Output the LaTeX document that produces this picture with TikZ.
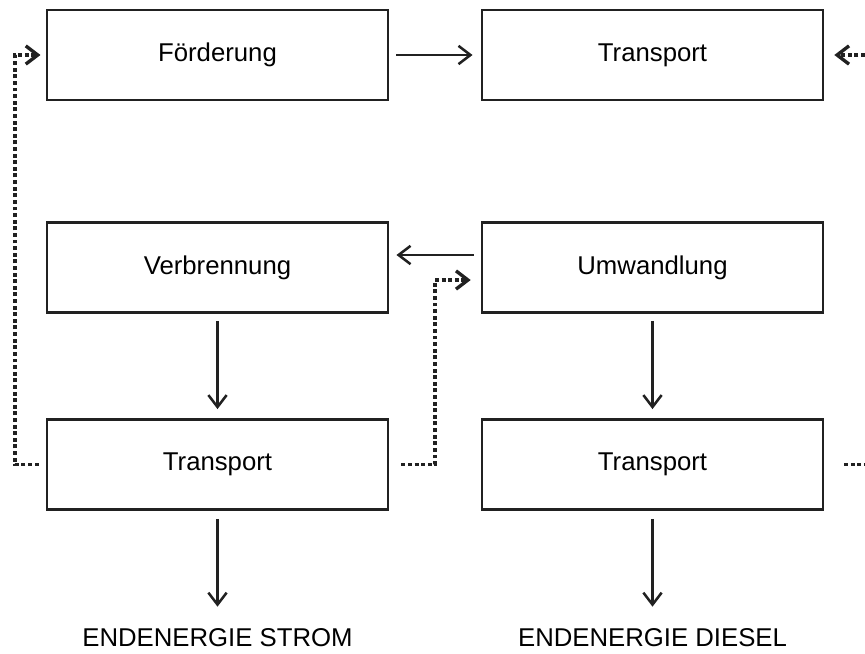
\documentclass[tikz,border=0pt]{standalone}
\usepackage{fontspec}
\setmainfont{Liberation Sans}
\usetikzlibrary{arrows.meta}

\begin{document}
\begin{tikzpicture}[x=0.025cm,y=-0.025cm,
  stufe/.style={draw=black!87,line width=2pt,minimum width=8.525cm,minimum height=2.25cm,inner sep=0pt,font=\fontsize{18.3}{22}\selectfont},
  ziel/.style={inner sep=0pt,font=\fontsize{18.3}{22}\selectfont},
  fluss/.style={draw=black!87,line width=1.8pt,-{Straight Barb[length=8.5pt,width=13pt]}},
  nebenfluss/.style={draw=black!87,line width=2.4pt,dash pattern=on 2.8pt off 1.9pt},
  nebenpfeil/.style={nebenfluss,-{Straight Barb[length=8.5pt,width=13pt]}}]
            \useasboundingbox (0,0) rectangle (865,653);

            \node[stufe] (foerd) at (217.5,55) {Förderung};
            \node[stufe] (transA) at (652.5,55) {Transport};
            \node[stufe] (verbr) at (217.5,267.5) {Verbrennung};
            \node[stufe] (umw) at (652.5,267.5) {Umwandlung};
            \node[stufe] (transB) at (217.5,464.5) {Transport};
            \node[stufe] (transC) at (652.5,464.5) {Transport};
            \node[ziel] (strom) at (217.5,638) {ENDENERGIE STROM};
            \node[ziel] (diesel) at (652.5,638) {ENDENERGIE DIESEL};

            \coordinate (links) at (15,0);
            \coordinate (mitte) at (435,0);
            \coordinate (reinA) at (865,55);
            \coordinate (rausC) at (865,464.5);

            \draw[fluss,shorten <=5pt,shorten >=5.7pt] (foerd) -- (transA);
            \draw[fluss,shorten <=5pt,shorten >=5pt] ([yshift=0.3125cm]umw.west) -- ([yshift=0.3125cm]verbr.east);
            \draw[fluss,shorten <=5pt,shorten >=6.4pt] (verbr) -- (transB);
            \draw[fluss,shorten <=5pt,shorten >=6.4pt] (umw) -- (transC);
            \draw[fluss,shorten <=5.7pt,shorten >=15.6pt] (transB) -- (strom);
            \draw[fluss,shorten <=5.7pt,shorten >=15.6pt] (transC) -- (diesel);

            \draw[nebenpfeil,shorten <=5pt,shorten >=3.6pt] (transB.west) -- (transB.west -| links) |- (foerd.west);
            \draw[nebenpfeil,shorten <=8.5pt,shorten >=7pt] (transB.east) -- (transB.east -| mitte) |- ([yshift=-0.3125cm]umw.west);
            \draw[nebenpfeil,shorten >=7pt] (reinA) -- (transA.east);
            \draw[nebenfluss,shorten <=14pt] (transC.east) -- (rausC);
        \end{tikzpicture}
\end{document}
